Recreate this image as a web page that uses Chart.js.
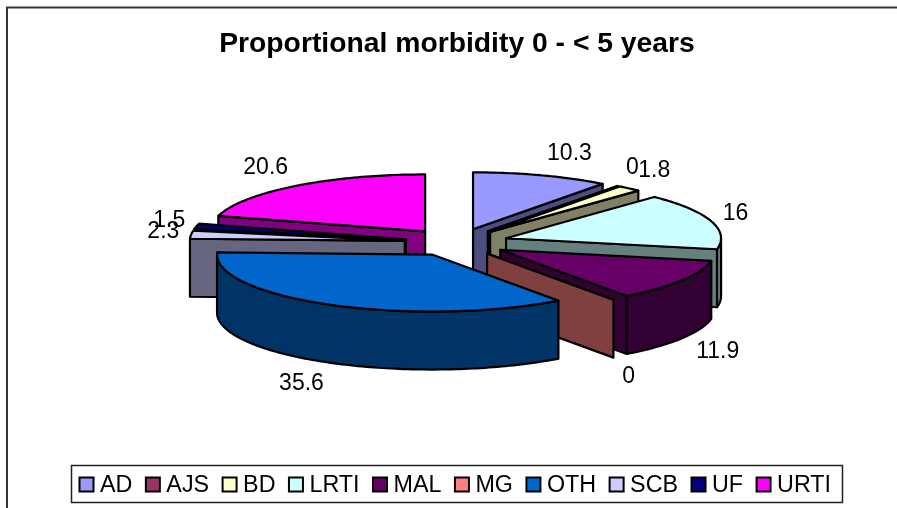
<!DOCTYPE html>
<html>
<head>
<meta charset="utf-8">
<style>html,body{margin:0;padding:0;background:#fff}#wrap{position:relative;width:897px;height:508px}</style>
<script src="https://cdn.jsdelivr.net/npm/chart.js@4/dist/chart.umd.min.js"></script>
</head>
<body>
<div id="wrap"><canvas id="c" width="897" height="508"></canvas></div>
<script>
const categories = ['AD','AJS','BD','LRTI','MAL','MG','OTH','SCB','UF','URTI'];
const morbidityValues = [10.3,0,1.8,16,11.9,0,35.6,2.3,1.5,20.6];
const sliceColors = ['#9999FF','#993366','#FFFFCC','#CCFFFF','#660066','#FF8080','#0066CC','#CCCCFF','#000080','#FF00FF'];
const wallColors = ['#4D4D80','#4D1A33','#808066','#668080','#330033','#804040','#003366','#666680','#000040','#800080'];
const labelReach = [1.41,1.115,1.18,1.12,1.2,1.12,1.29,1.13,1.13,1.23];
const titleText = 'Proportional morbidity 0 - < 5 years';

const FONT = '"Liberation Sans", Arial, sans-serif';
const CX = 456.5, CY = 242.4, SQUASH = 0.265, DEPTH = 58, LINE = 2.2, REACH_Y = 1.4;

const pie3d = {
  id: 'pie3d',
  beforeDraw(chart) {
    const c = chart.ctx;
    c.save();
    c.strokeStyle = '#333';
    c.lineWidth = 2;
    c.beginPath();
    c.moveTo(7, chart.height);
    c.lineTo(7, 7.5);
    c.lineTo(chart.width, 7.5);
    c.stroke();
    c.restore();
  },
  beforeDatasetsDraw(chart) {
    const c = chart.ctx;
    const arcs = chart.getDatasetMeta(0).data;
    const proj = (el, a, r, d) => {
      const half = (el.startAngle + el.endAngle) / 2;
      const off = (el.options.offset || 0) / 4;
      return [
        CX + off * Math.cos(half) + r * Math.cos(a),
        CY + (off * Math.sin(half) + r * Math.sin(a)) * SQUASH + d
      ];
    };
    const order = arcs.map((el, i) => i).sort((p, q) =>
      proj(arcs[p], 0, 0, 0)[1] - proj(arcs[q], 0, 0, 0)[1]);
    c.save();
    c.lineJoin = 'round';
    c.lineWidth = LINE;
    c.strokeStyle = '#000';
    const poly = (pts, fill) => {
      c.beginPath();
      pts.forEach((p, k) => k ? c.lineTo(p[0], p[1]) : c.moveTo(p[0], p[1]));
      c.closePath();
      c.fillStyle = fill;
      c.fill();
      c.stroke();
    };
    const arcPts = (el, a0, a1, r, d) => {
      const pts = [];
      const n = Math.max(1, Math.ceil(Math.abs(a1 - a0) / 0.02));
      for (let k = 0; k <= n; k++) pts.push(proj(el, a0 + (a1 - a0) * k / n, r, d));
      return pts;
    };
    order.forEach(i => {
      const el = arcs[i];
      const r = el.outerRadius;
      const a0 = el.startAngle, a1 = el.endAngle;
      const wall = wallColors[i];
      const w0 = Math.max(a0, 0), w1 = Math.min(a1, Math.PI);
      if (w1 > w0) {
        poly(arcPts(el, w0, w1, r, 0).concat(arcPts(el, w1, w0, r, DEPTH)), wall);
      }
      const face = a => poly([proj(el, a, 0, 0), proj(el, a, r, 0), proj(el, a, r, DEPTH), proj(el, a, 0, DEPTH)], wall);
      if (Math.cos(a1) > 0) face(a1);
      if (a1 > a0 && Math.cos(a0) < 0) face(a0);
      poly([proj(el, a0, 0, 0)].concat(arcPts(el, a0, a1, r, 0)), sliceColors[i]);
    });
    c.fillStyle = '#000';
    c.font = '23px ' + FONT;
    c.textAlign = 'center';
    c.textBaseline = 'middle';
    arcs.forEach((el, i) => {
      const mid = (el.startAngle + el.endAngle) / 2;
      const base = proj(el, 0, 0, 0);
      const x = base[0] + el.outerRadius * Math.cos(mid) * labelReach[i];
      const y = base[1] + el.outerRadius * SQUASH * Math.sin(mid) * REACH_Y + (Math.sin(mid) > 0.5 ? DEPTH + 1 : 0);
      c.fillText(String(morbidityValues[i]), x, y);
    });
    c.restore();
    return false;
  },
  afterDraw(chart) {
    const c = chart.ctx;
    c.save();
    c.strokeStyle = '#222';
    c.lineWidth = 1.5;
    c.strokeRect(71.5, 465.5, 771, 37);
    c.font = '23.3px ' + FONT;
    c.textAlign = 'left';
    c.textBaseline = 'middle';
    let x = 79.5;
    categories.forEach((name, i) => {
      c.fillStyle = sliceColors[i];
      c.strokeStyle = '#000';
      c.lineWidth = 2;
      c.fillRect(x, 477.5, 14, 14);
      c.strokeRect(x, 477.5, 14, 14);
      c.fillStyle = '#000';
      const w = c.measureText(name).width;
      c.fillText(name, x + 20.5, 485.5);
      x += w + 34;
    });
    c.restore();
  }
};

new Chart(document.getElementById('c'), {
  type: 'pie',
  data: {
    labels: categories,
    datasets: [{
      data: morbidityValues,
      backgroundColor: sliceColors,
      borderColor: '#000',
      borderWidth: 2,
      offset: 208,
      radius: 215
    }]
  },
  options: {
    responsive: false,
    animation: false,
    layout: { padding: { left: 17, top: 27 } },
    plugins: {
      title: { display: true, text: titleText, color: '#000', font: { family: FONT, size: 28.3, weight: 'bold' }, padding: { top: 0, bottom: 10 } },
      legend: { display: false },
      tooltip: { enabled: false }
    }
  },
  plugins: [pie3d]
});
</script>
</body>
</html>
